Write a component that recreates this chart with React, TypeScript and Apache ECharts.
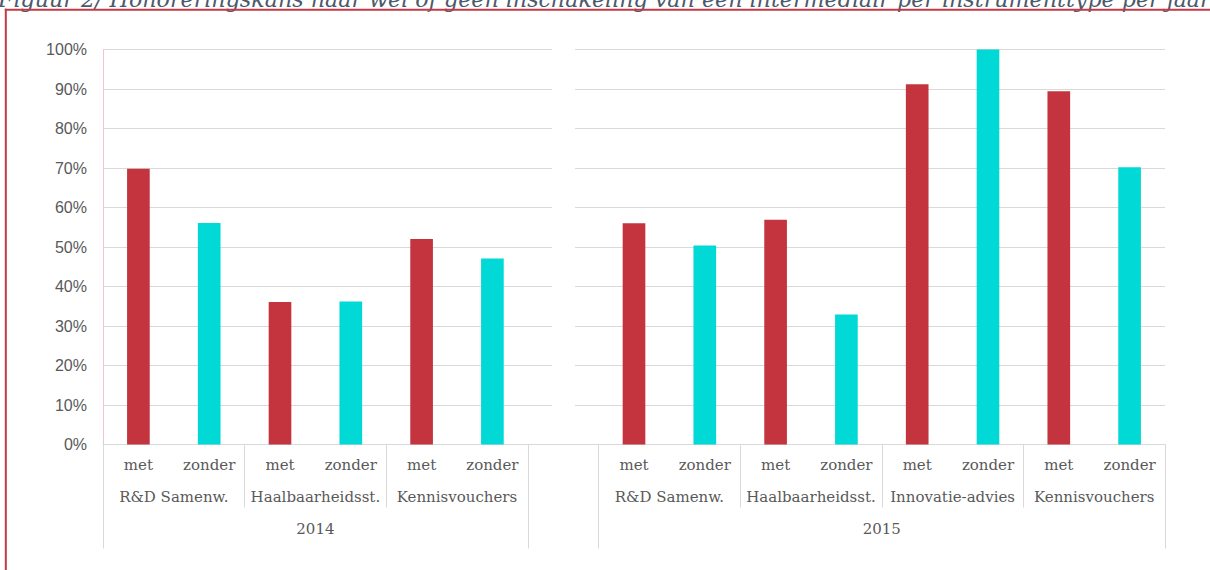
import React, { useEffect, useRef } from 'react';
import * as echarts from 'echarts';

const titleText =
  'Figuur 2/ Honoreringskans naar wel of geen inschakeling van een intermediair per instrumenttype per jaar';
const years = ['2014', '2015'];
const instruments2014 = ['R&D Samenw.', 'Haalbaarheidsst.', 'Kennisvouchers'];
const instruments2015 = ['R&D Samenw.', 'Haalbaarheidsst.', 'Innovatie-advies', 'Kennisvouchers'];
const subLabels = ['met', 'zonder'];
const met2014 = [69.8, 36.1, 52.0];
const zonder2014 = [56.1, 36.2, 47.1];
const met2015 = [56.0, 56.9, 91.2, 89.4];
const zonder2015 = [50.4, 32.9, 100, 70.2];
const yMin = 0;
const yMax = 100;
const yStep = 10;

const RED = '#c4343f';
const CYAN = '#00d9d5';
const GRID = '#d9d9d9';
const TXT = '#595959';

function buildOption() {
  // level 1: one category per bar, plus a blank one between the years
  const level1: string[] = [];
  const metData: (number | null)[] = [];
  const zonderData: (number | null)[] = [];
  const pushYear = (inst: string[], met: number[], zonder: number[]) => {
    inst.forEach((_, i) => {
      level1.push(subLabels[0], subLabels[1]);
      metData.push(met[i], null);
      zonderData.push(null, zonder[i]);
    });
  };
  pushYear(instruments2014, met2014, zonder2014);
  level1.push('');
  metData.push(null);
  zonderData.push(null);
  pushYear(instruments2015, met2015, zonder2015);

  // levels 2 and 3: points on the category boundaries (n + 1 points)
  const nPoints = level1.length + 1;
  const pointIds = Array.from({ length: nPoints }, (_, i) => 'p' + i);
  const level2Labels: string[] = Array(nPoints).fill('');
  const level2Ticks = new Set<number>();
  const level3Labels: string[] = Array(nPoints).fill('');
  const level3Ticks = new Set<number>();

  const start2014 = 0;
  instruments2014.forEach((name, i) => {
    level2Labels[start2014 + 2 * i + 1] = name;
    level2Ticks.add(start2014 + 2 * i);
    level2Ticks.add(start2014 + 2 * i + 2);
  });
  const end2014 = start2014 + instruments2014.length * 2;
  const start2015 = end2014 + 1;
  instruments2015.forEach((name, i) => {
    level2Labels[start2015 + 2 * i + 1] = name;
    level2Ticks.add(start2015 + 2 * i);
    level2Ticks.add(start2015 + 2 * i + 2);
  });
  const end2015 = start2015 + instruments2015.length * 2;
  level3Labels[(start2014 + end2014) / 2] = years[0];
  level3Labels[(start2015 + end2015) / 2] = years[1];
  [start2014, end2014, start2015, end2015].forEach((t) => level3Ticks.add(t));

  const catFont = { fontFamily: 'DejaVu Serif', fontSize: 15, color: TXT };

  return {
    animation: false,
    backgroundColor: '#ffffff',
    grid: { left: 103, right: 45, top: 49.5, bottom: 125.5, containLabel: false },
    xAxis: [
      {
        type: 'category',
        gridIndex: 0,
        position: 'bottom',
        data: level1,
        boundaryGap: true,
        axisLine: { show: true, lineStyle: { color: GRID, width: 1 } },
        axisTick: { show: false },
        axisLabel: { ...catFont, interval: 0, margin: 13 },
        splitLine: { show: false },
      },
      {
        type: 'category',
        gridIndex: 0,
        position: 'bottom',
        data: pointIds,
        boundaryGap: false,
        axisLine: { show: false },
        axisTick: {
          show: true,
          length: 63,
          interval: (i: number) => level2Ticks.has(i),
          lineStyle: { color: GRID, width: 1 },
        },
        axisLabel: {
          ...catFont,
          interval: 0,
          margin: 45,
          formatter: (_v: string, i: number) => level2Labels[i],
        },
        splitLine: { show: false },
      },
      {
        type: 'category',
        gridIndex: 0,
        position: 'bottom',
        data: pointIds,
        boundaryGap: false,
        axisLine: { show: false },
        axisTick: {
          show: true,
          length: 104,
          interval: (i: number) => level3Ticks.has(i),
          lineStyle: { color: GRID, width: 1 },
        },
        axisLabel: {
          ...catFont,
          interval: 0,
          margin: 77,
          formatter: (_v: string, i: number) => level3Labels[i],
        },
        splitLine: { show: false },
      },
    ],
    yAxis: {
      type: 'value',
      min: yMin,
      max: yMax,
      interval: yStep,
      axisLine: { show: true, lineStyle: { color: '#f0c6cb', width: 1 } },
      axisTick: { show: false },
      axisLabel: {
        formatter: '{value}%',
        fontFamily: 'Liberation Sans',
        fontSize: 16,
        color: TXT,
        margin: 16,
      },
      splitLine: { show: true, lineStyle: { color: GRID, width: 1 } },
    },
    series: [
      {
        name: 'met',
        type: 'bar',
        xAxisIndex: 0,
        data: metData,
        barWidth: '32%',
        barGap: '-100%',
        itemStyle: { color: RED },
      },
      {
        name: 'zonder',
        type: 'bar',
        xAxisIndex: 0,
        data: zonderData,
        barWidth: '32%',
        barGap: '-100%',
        itemStyle: { color: CYAN },
      },
    ],
    graphic: [
      {
        type: 'rect',
        z: 100,
        shape: { x: 552, y: 40, width: 23, height: 400 },
        style: { fill: '#ffffff' },
      },
      {
        type: 'text',
        z: 110,
        x: -2,
        y: -1.5,
        style: {
          text: titleText,
          fontFamily: 'DejaVu Serif',
          fontStyle: 'italic',
          fontSize: 22.2,
          fill: '#4b596c',
          align: 'left',
          verticalAlign: 'middle',
        },
      },
      {
        type: 'line',
        z: 120,
        shape: { x1: 4.8, y1: 9.7, x2: 1210, y2: 9.7 },
        style: { stroke: '#c23a44', lineWidth: 2 },
      },
      {
        type: 'line',
        z: 120,
        shape: { x1: 5.8, y1: 8.7, x2: 5.8, y2: 570 },
        style: { stroke: '#c23a44', lineWidth: 2 },
      },
    ],
  };
}

export default function App() {
  const ref = useRef<HTMLDivElement>(null);
  useEffect(() => {
    if (!ref.current) return;
    const chart = echarts.init(ref.current, undefined, { renderer: 'svg' });
    chart.setOption(buildOption() as any);
    return () => chart.dispose();
  }, []);
  return (
    <div
      ref={ref}
      style={{ position: 'absolute', left: 0, top: 0, width: 1210, height: 570, background: '#ffffff' }}
    />
  );
}
